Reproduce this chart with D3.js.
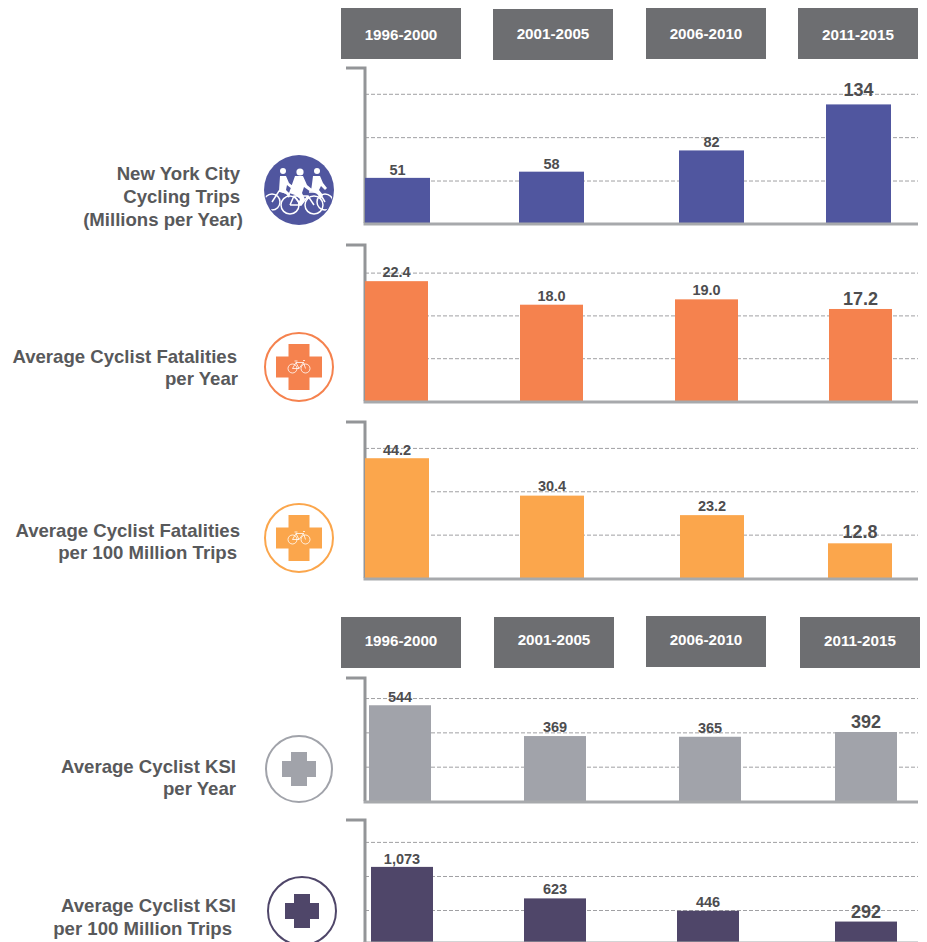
<!doctype html>
<html lang="en">
<head>
    <meta charset="utf-8">
    <title>NYC cycling trips and safety</title>
    <script src="https://cdnjs.cloudflare.com/ajax/libs/d3/7.8.5/d3.min.js" type="text/JavaScript"></script>
    <style>
        body { margin: 0; background: white; }
        svg { display: block; font-family: "Liberation Sans", sans-serif; }
    </style>
</head>
<body>
<script>
    // values
    const periods = ["1996-2000", "2001-2005", "2006-2010", "2011-2015"];

    const trips = [51, 58, 82, 134];
    const fatalities = [22.4, 18.0, 19.0, 17.2];
    const fatalitiesPerTrips = [44.2, 30.4, 23.2, 12.8];
    const ksi = [544, 369, 365, 392];
    const ksiPerTrips = [1073, 623, 446, 292];

    const tripsGrid = [48, 97, 146];
    const fatalitiesGrid = [8, 16, 24];
    const fatalitiesPerTripsGrid = [16, 32, 48];
    const ksiGrid = [195, 390, 585];
    const ksiPerTripsGrid = [457, 943, 1430];

    const width = 927, height = 942;

    const svg = d3.select("body").append("svg")
        .attr("width", width)
        .attr("height", height);

    // layout of each panel, the source artwork is not evenly spaced
    const panels = [
        {
            values: trips, grid: tripsGrid, fmt: d3.format("d"), color: "#50569f",
            top: 68, base: 223, perUnit: 0.885, barW: 65, barX: [365, 519, 679, 826], lift: [3, 3, 3, 8],
            title: [["New York City", 240, 180], ["Cycling Trips", 240, 203], ["(Millions per Year)", 243, 226]],
            icon: { type: "riders", cx: 299, cy: 190, r: 35 }
        },
        {
            values: fatalities, grid: fatalitiesGrid, fmt: d3.format(".1f"), color: "#f5824e",
            top: 245, base: 401, perUnit: 5.35, barW: 63, barX: [365, 520, 675, 829], lift: [4, 4, 4, 4],
            title: [["Average Cyclist Fatalities", 237, 363], ["per Year", 238, 385]],
            icon: { type: "cross", bike: true, cx: 299, cy: 367, r: 34, arm: 21, len: 46 }
        },
        {
            values: fatalitiesPerTrips, grid: fatalitiesPerTripsGrid, fmt: d3.format(".1f"), color: "#fba64c",
            top: 422, base: 578, perUnit: 2.71, barW: 64, barX: [365, 520, 680, 828], lift: [3, 5, 4, 5],
            title: [["Average Cyclist Fatalities", 240, 537], ["per 100 Million Trips", 237, 559]],
            icon: { type: "cross", bike: true, cx: 299, cy: 538, r: 34, arm: 21, len: 46 }
        },
        {
            values: ksi, grid: ksiGrid, fmt: d3.format("d"), color: "#a1a3aa",
            top: 678, base: 801, perUnit: 0.176, barW: 62, barX: [369, 524, 679, 835], lift: [3, 4, 4, 4],
            title: [["Average Cyclist KSI", 236, 773], ["per Year", 236, 795]],
            icon: { type: "cross", cx: 299, cy: 769, r: 33, arm: 16, len: 34 }
        },
        {
            values: ksiPerTrips, grid: ksiPerTripsGrid, fmt: d3.format(","), color: "#4f4669",
            top: 820, base: 942, perUnit: 0.07, barW: 62, barX: [371, 524, 677, 835], lift: [3, 4, 4, 4],
            title: [["Average Cyclist KSI", 236, 912], ["per 100 Million Trips", 232, 935]],
            icon: { type: "cross", cx: 302, cy: 911, r: 34, arm: 16, len: 34 }
        }
    ];

    // grey period headers, each box sits a little off the others in the source
    const headerRows = [
        { x: [341, 493, 646, 798], y: [8, 9, 8, 8], w: 120, h: 51, text: [40, 39, 39, 40] },
        { x: [341, 494, 646, 800], y: [617, 617, 616, 617], w: 120, h: 51, text: [646, 645, 645, 646] }
    ];

    headerRows.forEach(row => {
        const head = svg.append("g").selectAll("g")
            .data(periods)
            .join("g");
        head.append("rect")
            .attr("x", (d, i) => row.x[i])
            .attr("y", (d, i) => row.y[i])
            .attr("width", row.w)
            .attr("height", row.h)
            .attr("fill", "#6d6e71");
        head.append("text")
            .attr("x", (d, i) => row.x[i] + row.w / 2)
            .attr("y", (d, i) => row.text[i])
            .attr("text-anchor", "middle")
            .attr("font-size", 15.2)
            .attr("font-weight", "bold")
            .attr("fill", "white")
            .text(d => d);
    });

    const axisX = 365, axisRight = 918;

    panels.forEach(p => {
        const g = svg.append("g");
        const x = d3.scaleOrdinal().domain(periods).range(p.barX);
        const y = d3.scaleLinear()
            .domain([0, (p.base - p.top) / p.perUnit])
            .range([p.base, p.top]);

        // dashed guides go behind the bars
        g.selectAll(".guide")
            .data(p.grid)
            .join("line")
            .attr("class", "guide")
            .attr("x1", axisX)
            .attr("x2", axisRight)
            .attr("y1", d => y(d) + 0.5)
            .attr("y2", d => y(d) + 0.5)
            .attr("stroke", "#a0a0a3")
            .attr("stroke-dasharray", "4 2");

        // bracket axis, the first bars cover it
        g.append("path")
            .attr("d", `M${axisX - 19},${p.top}H${axisX}V${p.base}`)
            .attr("fill", "none")
            .attr("stroke", "#939598")
            .attr("stroke-width", 3);

        g.selectAll(".bar")
            .data(p.values)
            .join("rect")
            .attr("class", "bar")
            .attr("x", (d, i) => x(periods[i]))
            .attr("y", d => y(d))
            .attr("width", p.barW)
            .attr("height", d => y(0) - y(d))
            .attr("fill", p.color);

        g.append("line")
            .attr("x1", axisX - 1.5)
            .attr("x2", axisRight)
            .attr("y1", p.base + 1)
            .attr("y2", p.base + 1)
            .attr("stroke", "#a7a9ac")
            .attr("stroke-width", 3);

        g.selectAll(".val")
            .data(p.values)
            .join("text")
            .attr("class", "val")
            .attr("x", (d, i) => x(periods[i]) + p.barW / 2)
            .attr("y", (d, i) => y(d) - p.lift[i])
            .attr("text-anchor", "middle")
            .attr("font-weight", "bold")
            .attr("font-size", (d, i) => i === 3 ? 18 : 14.5)
            .attr("fill", "#4d4d4f")
            .text(p.fmt);

        g.selectAll(".title")
            .data(p.title)
            .join("text")
            .attr("class", "title")
            .attr("x", d => d[1])
            .attr("y", d => d[2])
            .attr("text-anchor", "end")
            .attr("font-size", 18.6)
            .attr("font-weight", "bold")
            .attr("fill", "#58595b")
            .text(d => d[0]);

        drawIcon(g, p.icon, p.color);
    });

    function drawBike(g, cx, cy, color, sw) {
        const b = g.append("g")
            .attr("transform", `translate(${cx},${cy})`)
            .attr("fill", "none")
            .attr("stroke", color)
            .attr("stroke-width", sw);
        b.append("circle").attr("cx", -6.5).attr("cy", 2).attr("r", 4.5);
        b.append("circle").attr("cx", 6.5).attr("cy", 2).attr("r", 4.5);
        b.append("path").attr("d", "M-6.5,2L-3,-4H4.5L6.5,2M-3,-4L0,2L4.5,-4M4,-6H6M-4.5,-5.5H-1.5M0,2H-6.5");
    }

    function drawIcon(g, ic, color) {
        const icon = g.append("g");
        if (ic.type === "riders") {
            icon.append("clipPath").attr("id", "ridersClip")
                .append("circle").attr("r", ic.r - 1);
            icon.append("circle")
                .attr("cx", ic.cx).attr("cy", ic.cy).attr("r", ic.r)
                .attr("fill", color);
            const art = icon.append("g")
                .attr("transform", `translate(${ic.cx},${ic.cy})`)
                .attr("clip-path", "url(#ridersClip)");
            // wheels and frames
            const frames = art.append("g")
                .attr("fill", "none")
                .attr("stroke", "white")
                .attr("stroke-width", 1.5);
            [[-9, 15, 9], [15, 15, 9], [-27, 12, 8], [26, 12, 8]].forEach(w => {
                frames.append("circle").attr("cx", w[0]).attr("cy", w[1]).attr("r", w[2]);
            });
            frames.append("path").attr("d", "M-9,15L-5,6L9,6L15,15M-5,6L2,15L9,6M2,15H-9M-27,12L-20,1L-9,4M26,12L20,2L10,2");
            // riders
            [[-16, -19, 3], [1, -18, 3.6], [18, -19, 3]].forEach(h => {
                art.append("circle").attr("cx", h[0]).attr("cy", h[1]).attr("r", h[2]).attr("fill", "white");
            });
            art.append("path")
                .attr("fill", "white")
                .attr("d", "M-4,-14L4,-14L8,-5L14,0L12,2L5,-3L3,3L6,9L2,15L-1,14L1,9L-4,5L-10,3Z"
                    + "M-19,-14L-13,-14L-10,-7L-5,-3L-7,-1L-12,-5L-13,0L-9,4L-10,8L-13,4L-20,1Z"
                    + "M14,-14L21,-14L24,-7L28,-2L26,0L22,-4L20,0L24,5L22,9L18,4L12,1L13,-6Z");
            return;
        }
        icon.append("circle")
            .attr("cx", ic.cx).attr("cy", ic.cy).attr("r", ic.r)
            .attr("fill", "white")
            .attr("stroke", color)
            .attr("stroke-width", 2);
        icon.append("rect")
            .attr("x", ic.cx - ic.arm / 2).attr("y", ic.cy - ic.len / 2)
            .attr("width", ic.arm).attr("height", ic.len)
            .attr("fill", color);
        icon.append("rect")
            .attr("x", ic.cx - ic.len / 2).attr("y", ic.cy - ic.arm / 2)
            .attr("width", ic.len).attr("height", ic.arm)
            .attr("fill", color);
        if (ic.bike) drawBike(icon, ic.cx, ic.cy - 0.5, "white", 0.8);
    }
</script>
</body>
</html>
